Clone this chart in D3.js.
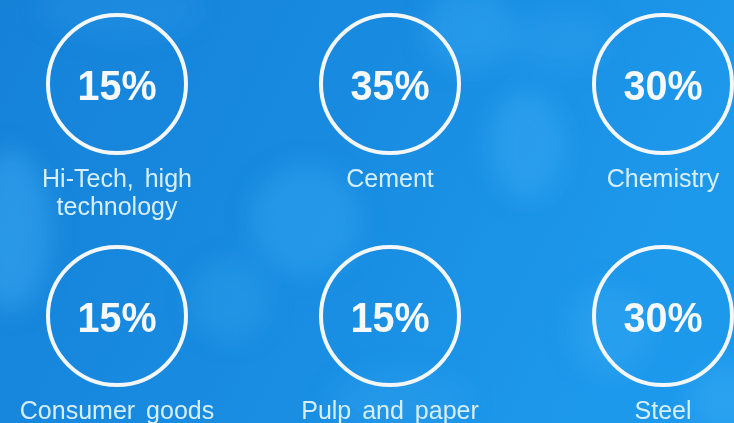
<!DOCTYPE html>
<html>
<head>
<meta charset="utf-8">
<script src="https://cdn.jsdelivr.net/npm/d3@7"></script>
<style>
  html, body { margin: 0; padding: 0; background: #1687dc; }
  svg { display: block; }
</style>
</head>
<body>
<svg id="chart" width="734" height="423"></svg>
<script>
// Industry shares
const sectors = ["Hi-Tech, high|technology", "Cement", "Chemistry", "Consumer goods", "Pulp and paper", "Steel"];
const shares = [15, 35, 30, 15, 15, 30];
const gridCols = [0, 1, 2];
const gridRows = [0, 1];

// Soft background highlights (x, y, rx, ry, opacity)
const glowX = [470, 305, 527, 10, 230, 725, 610, 120, 400, 560];
const glowY = [30, 220, 145, 230, 300, 400, 330, 10, 400, 40];
const glowRX = [45, 55, 38, 40, 40, 35, 40, 80, 70, 50];
const glowRY = [40, 55, 55, 80, 40, 35, 45, 30, 30, 30];
const glowA = [0.35, 0.35, 0.4, 0.45, 0.25, 0.4, 0.3, 0.15, 0.2, 0.2];

const W = 734, H = 423;
const svg = d3.select("#chart");
const defs = svg.append("defs");

const bg = defs.append("linearGradient").attr("id", "bg").attr("x1", 0).attr("y1", 0).attr("x2", 1).attr("y2", 0.3);
bg.append("stop").attr("offset", "0%").attr("stop-color", "#1582d8");
bg.append("stop").attr("offset", "50%").attr("stop-color", "#188be0");
bg.append("stop").attr("offset", "100%").attr("stop-color", "#1d99ec");

defs.append("filter").attr("id", "soft").attr("x", "-50%").attr("y", "-50%").attr("width", "200%").attr("height", "200%")
  .append("feGaussianBlur").attr("stdDeviation", 12);

svg.append("rect").attr("width", W).attr("height", H).attr("fill", "url(#bg)");

svg.append("g").attr("filter", "url(#soft)")
  .selectAll("ellipse").data(glowX).join("ellipse")
  .attr("cx", d => d).attr("cy", (d, i) => glowY[i])
  .attr("rx", (d, i) => glowRX[i]).attr("ry", (d, i) => glowRY[i])
  .attr("fill", "#3fb0f5").attr("opacity", (d, i) => glowA[i]);

const x = d3.scalePoint().domain(gridCols).range([117, 663]);
const y = d3.scalePoint().domain(gridRows).range([84, 316]);
const r = 69;

const items = sectors.map((s, i) => ({ label: s.split("|"), value: shares[i], col: i % 3, row: Math.floor(i / 3) }));

const g = svg.append("g").selectAll("g.item").data(items).join("g")
  .attr("class", "item")
  .attr("transform", d => `translate(${x(d.col)},${y(d.row)})`);

g.append("circle").attr("r", r).attr("fill", "none")
  .attr("stroke", "#f4f7fa").attr("stroke-width", 4);

g.append("text").attr("text-anchor", "middle")
  .attr("transform", "translate(0,16) scale(0.92,1)")
  .attr("font-family", "'Liberation Sans', Arial, sans-serif")
  .attr("font-weight", "bold").attr("font-size", 43)
  .attr("fill", "#f6f8fa")
  .text(d => d.value + "%");

g.append("text").attr("text-anchor", "middle")
  .attr("font-family", "'Liberation Sans', Arial, sans-serif")
  .attr("font-size", 25).attr("fill", "#d6eef6")
  .attr("word-spacing", 4)
  .selectAll("tspan").data(d => d.label).join("tspan")
  .attr("x", 0).attr("y", (d, i) => (i === 0 ? 103 : 131))
  .text(d => d);
</script>
</body>
</html>
